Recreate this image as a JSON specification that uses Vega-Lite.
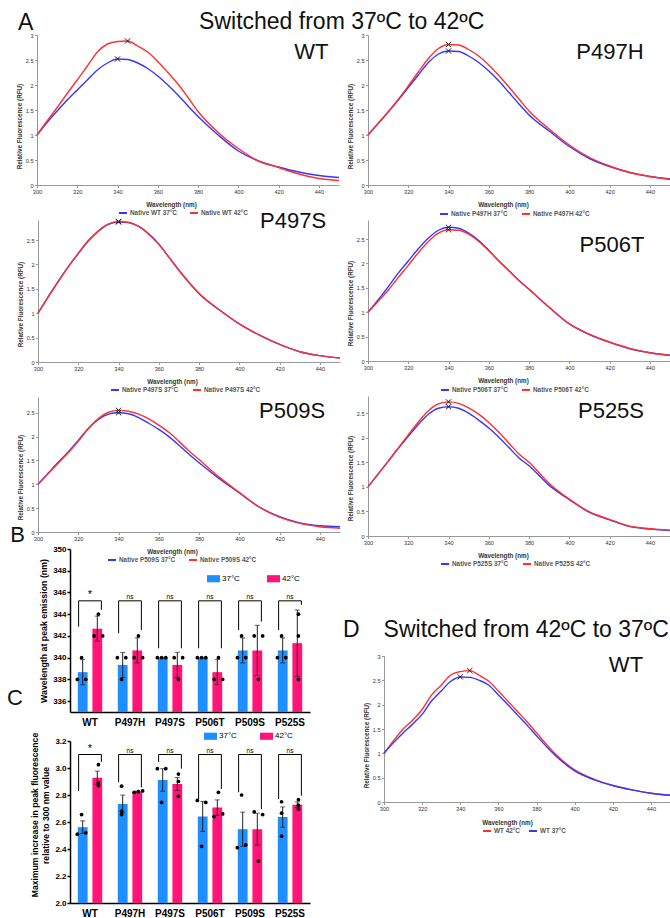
{
"$schema": "https://vega.github.io/schema/vega-lite/v6.json",
"width": 670, "height": 918,
"autosize": {"type": "none"},
"padding": 0,
"background": "white",
"config": {
 "view": {"stroke": null},
 "font": "Liberation Sans",
 "axis": {"grid": false, "labelFont": "Liberation Sans", "titleFont": "Liberation Sans", "labelFontSize": 5.6, "labelColor": "#333", "domainColor": "#999", "tickColor": "#999", "tickSize": 2.5, "labelPadding": 1.5, "titleFontSize": 6.3, "titleFontWeight": "bold", "titleColor": "#333", "labelFlush": false, "labelOverlap": false, "titlePadding": 3},
 "legend": {"labelFont": "Liberation Sans", "padding": 0}
},
"datasets": {
 "curves": [
{"p":"WT","s":"37","w":300,"v":1.0},{"p":"WT","s":"37","w":305,"v":1.25},{"p":"WT","s":"37","w":310,"v":1.48},{"p":"WT","s":"37","w":315,"v":1.70},{"p":"WT","s":"37","w":320,"v":1.90},{"p":"WT","s":"37","w":325,"v":2.10},{"p":"WT","s":"37","w":330,"v":2.30},{"p":"WT","s":"37","w":335,"v":2.44},{"p":"WT","s":"37","w":340,"v":2.52},{"p":"WT","s":"37","w":345,"v":2.51},{"p":"WT","s":"37","w":350,"v":2.44},{"p":"WT","s":"37","w":355,"v":2.33},{"p":"WT","s":"37","w":360,"v":2.18},{"p":"WT","s":"37","w":365,"v":2.00},{"p":"WT","s":"37","w":370,"v":1.80},{"p":"WT","s":"37","w":375,"v":1.58},{"p":"WT","s":"37","w":380,"v":1.37},{"p":"WT","s":"37","w":390,"v":1.00},{"p":"WT","s":"37","w":400,"v":0.68},{"p":"WT","s":"37","w":410,"v":0.48},{"p":"WT","s":"37","w":420,"v":0.36},{"p":"WT","s":"37","w":430,"v":0.26},{"p":"WT","s":"37","w":440,"v":0.19},{"p":"WT","s":"37","w":450,"v":0.15},
{"p":"WT","s":"42","w":300,"v":1.0},{"p":"WT","s":"42","w":305,"v":1.28},{"p":"WT","s":"42","w":310,"v":1.55},{"p":"WT","s":"42","w":315,"v":1.83},{"p":"WT","s":"42","w":320,"v":2.10},{"p":"WT","s":"42","w":325,"v":2.38},{"p":"WT","s":"42","w":330,"v":2.66},{"p":"WT","s":"42","w":335,"v":2.82},{"p":"WT","s":"42","w":340,"v":2.87},{"p":"WT","s":"42","w":345,"v":2.88},{"p":"WT","s":"42","w":350,"v":2.78},{"p":"WT","s":"42","w":355,"v":2.66},{"p":"WT","s":"42","w":360,"v":2.47},{"p":"WT","s":"42","w":365,"v":2.25},{"p":"WT","s":"42","w":370,"v":2.02},{"p":"WT","s":"42","w":375,"v":1.75},{"p":"WT","s":"42","w":380,"v":1.47},{"p":"WT","s":"42","w":390,"v":1.05},{"p":"WT","s":"42","w":400,"v":0.73},{"p":"WT","s":"42","w":410,"v":0.48},{"p":"WT","s":"42","w":420,"v":0.35},{"p":"WT","s":"42","w":430,"v":0.22},{"p":"WT","s":"42","w":440,"v":0.13},{"p":"WT","s":"42","w":450,"v":0.09},
{"p":"P497H","s":"37","w":300,"v":1.0},{"p":"P497H","s":"37","w":305,"v":1.23},{"p":"P497H","s":"37","w":310,"v":1.46},{"p":"P497H","s":"37","w":315,"v":1.70},{"p":"P497H","s":"37","w":320,"v":1.95},{"p":"P497H","s":"37","w":325,"v":2.20},{"p":"P497H","s":"37","w":330,"v":2.45},{"p":"P497H","s":"37","w":335,"v":2.62},{"p":"P497H","s":"37","w":340,"v":2.68},{"p":"P497H","s":"37","w":345,"v":2.67},{"p":"P497H","s":"37","w":350,"v":2.58},{"p":"P497H","s":"37","w":355,"v":2.45},{"p":"P497H","s":"37","w":360,"v":2.28},{"p":"P497H","s":"37","w":365,"v":2.08},{"p":"P497H","s":"37","w":370,"v":1.85},{"p":"P497H","s":"37","w":375,"v":1.62},{"p":"P497H","s":"37","w":380,"v":1.40},{"p":"P497H","s":"37","w":390,"v":1.08},{"p":"P497H","s":"37","w":400,"v":0.77},{"p":"P497H","s":"37","w":410,"v":0.53},{"p":"P497H","s":"37","w":420,"v":0.37},{"p":"P497H","s":"37","w":430,"v":0.25},{"p":"P497H","s":"37","w":440,"v":0.17},{"p":"P497H","s":"37","w":450,"v":0.12},
{"p":"P497H","s":"42","w":300,"v":1.0},{"p":"P497H","s":"42","w":305,"v":1.23},{"p":"P497H","s":"42","w":310,"v":1.46},{"p":"P497H","s":"42","w":315,"v":1.71},{"p":"P497H","s":"42","w":320,"v":1.98},{"p":"P497H","s":"42","w":325,"v":2.26},{"p":"P497H","s":"42","w":330,"v":2.53},{"p":"P497H","s":"42","w":335,"v":2.73},{"p":"P497H","s":"42","w":340,"v":2.81},{"p":"P497H","s":"42","w":345,"v":2.80},{"p":"P497H","s":"42","w":350,"v":2.71},{"p":"P497H","s":"42","w":355,"v":2.58},{"p":"P497H","s":"42","w":360,"v":2.40},{"p":"P497H","s":"42","w":365,"v":2.19},{"p":"P497H","s":"42","w":370,"v":1.96},{"p":"P497H","s":"42","w":375,"v":1.72},{"p":"P497H","s":"42","w":380,"v":1.48},{"p":"P497H","s":"42","w":390,"v":1.12},{"p":"P497H","s":"42","w":400,"v":0.80},{"p":"P497H","s":"42","w":410,"v":0.55},{"p":"P497H","s":"42","w":420,"v":0.38},{"p":"P497H","s":"42","w":430,"v":0.25},{"p":"P497H","s":"42","w":440,"v":0.17},{"p":"P497H","s":"42","w":450,"v":0.11},
{"p":"P497S","s":"37","w":300,"v":1.0},{"p":"P497S","s":"37","w":305,"v":1.33},{"p":"P497S","s":"37","w":310,"v":1.65},{"p":"P497S","s":"37","w":315,"v":1.95},{"p":"P497S","s":"37","w":320,"v":2.22},{"p":"P497S","s":"37","w":325,"v":2.48},{"p":"P497S","s":"37","w":330,"v":2.68},{"p":"P497S","s":"37","w":335,"v":2.82},{"p":"P497S","s":"37","w":340,"v":2.87},{"p":"P497S","s":"37","w":345,"v":2.86},{"p":"P497S","s":"37","w":350,"v":2.78},{"p":"P497S","s":"37","w":355,"v":2.63},{"p":"P497S","s":"37","w":360,"v":2.42},{"p":"P497S","s":"37","w":365,"v":2.15},{"p":"P497S","s":"37","w":370,"v":1.88},{"p":"P497S","s":"37","w":375,"v":1.63},{"p":"P497S","s":"37","w":380,"v":1.40},{"p":"P497S","s":"37","w":390,"v":1.07},{"p":"P497S","s":"37","w":400,"v":0.78},{"p":"P497S","s":"37","w":410,"v":0.55},{"p":"P497S","s":"37","w":420,"v":0.36},{"p":"P497S","s":"37","w":430,"v":0.21},{"p":"P497S","s":"37","w":440,"v":0.13},{"p":"P497S","s":"37","w":450,"v":0.08},
{"p":"P497S","s":"42","w":300,"v":1.0},{"p":"P497S","s":"42","w":305,"v":1.33},{"p":"P497S","s":"42","w":310,"v":1.64},{"p":"P497S","s":"42","w":315,"v":1.95},{"p":"P497S","s":"42","w":320,"v":2.23},{"p":"P497S","s":"42","w":325,"v":2.49},{"p":"P497S","s":"42","w":330,"v":2.69},{"p":"P497S","s":"42","w":335,"v":2.83},{"p":"P497S","s":"42","w":340,"v":2.88},{"p":"P497S","s":"42","w":345,"v":2.86},{"p":"P497S","s":"42","w":350,"v":2.78},{"p":"P497S","s":"42","w":355,"v":2.62},{"p":"P497S","s":"42","w":360,"v":2.41},{"p":"P497S","s":"42","w":365,"v":2.15},{"p":"P497S","s":"42","w":370,"v":1.88},{"p":"P497S","s":"42","w":375,"v":1.63},{"p":"P497S","s":"42","w":380,"v":1.41},{"p":"P497S","s":"42","w":390,"v":1.07},{"p":"P497S","s":"42","w":400,"v":0.78},{"p":"P497S","s":"42","w":410,"v":0.55},{"p":"P497S","s":"42","w":420,"v":0.36},{"p":"P497S","s":"42","w":430,"v":0.21},{"p":"P497S","s":"42","w":440,"v":0.13},{"p":"P497S","s":"42","w":450,"v":0.08},
{"p":"P506T","s":"37","w":300,"v":1.0},{"p":"P506T","s":"37","w":305,"v":1.25},{"p":"P506T","s":"37","w":310,"v":1.52},{"p":"P506T","s":"37","w":315,"v":1.80},{"p":"P506T","s":"37","w":320,"v":2.05},{"p":"P506T","s":"37","w":325,"v":2.30},{"p":"P506T","s":"37","w":330,"v":2.52},{"p":"P506T","s":"37","w":335,"v":2.68},{"p":"P506T","s":"37","w":340,"v":2.74},{"p":"P506T","s":"37","w":345,"v":2.72},{"p":"P506T","s":"37","w":350,"v":2.62},{"p":"P506T","s":"37","w":355,"v":2.47},{"p":"P506T","s":"37","w":360,"v":2.27},{"p":"P506T","s":"37","w":365,"v":2.05},{"p":"P506T","s":"37","w":370,"v":1.85},{"p":"P506T","s":"37","w":375,"v":1.65},{"p":"P506T","s":"37","w":380,"v":1.47},{"p":"P506T","s":"37","w":390,"v":1.10},{"p":"P506T","s":"37","w":400,"v":0.76},{"p":"P506T","s":"37","w":410,"v":0.54},{"p":"P506T","s":"37","w":420,"v":0.38},{"p":"P506T","s":"37","w":430,"v":0.25},{"p":"P506T","s":"37","w":440,"v":0.17},{"p":"P506T","s":"37","w":450,"v":0.12},
{"p":"P506T","s":"42","w":300,"v":1.0},{"p":"P506T","s":"42","w":305,"v":1.22},{"p":"P506T","s":"42","w":310,"v":1.45},{"p":"P506T","s":"42","w":315,"v":1.71},{"p":"P506T","s":"42","w":320,"v":1.96},{"p":"P506T","s":"42","w":325,"v":2.22},{"p":"P506T","s":"42","w":330,"v":2.45},{"p":"P506T","s":"42","w":335,"v":2.62},{"p":"P506T","s":"42","w":340,"v":2.69},{"p":"P506T","s":"42","w":345,"v":2.68},{"p":"P506T","s":"42","w":350,"v":2.60},{"p":"P506T","s":"42","w":355,"v":2.45},{"p":"P506T","s":"42","w":360,"v":2.26},{"p":"P506T","s":"42","w":365,"v":2.05},{"p":"P506T","s":"42","w":370,"v":1.85},{"p":"P506T","s":"42","w":375,"v":1.65},{"p":"P506T","s":"42","w":380,"v":1.47},{"p":"P506T","s":"42","w":390,"v":1.10},{"p":"P506T","s":"42","w":400,"v":0.76},{"p":"P506T","s":"42","w":410,"v":0.55},{"p":"P506T","s":"42","w":420,"v":0.39},{"p":"P506T","s":"42","w":430,"v":0.26},{"p":"P506T","s":"42","w":440,"v":0.17},{"p":"P506T","s":"42","w":450,"v":0.11},
{"p":"P509S","s":"37","w":300,"v":1.0},{"p":"P509S","s":"37","w":305,"v":1.23},{"p":"P509S","s":"37","w":310,"v":1.46},{"p":"P509S","s":"37","w":315,"v":1.68},{"p":"P509S","s":"37","w":320,"v":1.92},{"p":"P509S","s":"37","w":325,"v":2.17},{"p":"P509S","s":"37","w":330,"v":2.36},{"p":"P509S","s":"37","w":335,"v":2.47},{"p":"P509S","s":"37","w":340,"v":2.50},{"p":"P509S","s":"37","w":345,"v":2.48},{"p":"P509S","s":"37","w":350,"v":2.40},{"p":"P509S","s":"37","w":355,"v":2.28},{"p":"P509S","s":"37","w":360,"v":2.15},{"p":"P509S","s":"37","w":365,"v":2.00},{"p":"P509S","s":"37","w":370,"v":1.82},{"p":"P509S","s":"37","w":375,"v":1.63},{"p":"P509S","s":"37","w":380,"v":1.45},{"p":"P509S","s":"37","w":390,"v":1.12},{"p":"P509S","s":"37","w":400,"v":0.82},{"p":"P509S","s":"37","w":410,"v":0.52},{"p":"P509S","s":"37","w":420,"v":0.32},{"p":"P509S","s":"37","w":430,"v":0.19},{"p":"P509S","s":"37","w":440,"v":0.13},{"p":"P509S","s":"37","w":450,"v":0.11},
{"p":"P509S","s":"42","w":300,"v":1.0},{"p":"P509S","s":"42","w":305,"v":1.22},{"p":"P509S","s":"42","w":310,"v":1.44},{"p":"P509S","s":"42","w":315,"v":1.66},{"p":"P509S","s":"42","w":320,"v":1.90},{"p":"P509S","s":"42","w":325,"v":2.17},{"p":"P509S","s":"42","w":330,"v":2.38},{"p":"P509S","s":"42","w":335,"v":2.51},{"p":"P509S","s":"42","w":340,"v":2.55},{"p":"P509S","s":"42","w":345,"v":2.53},{"p":"P509S","s":"42","w":350,"v":2.47},{"p":"P509S","s":"42","w":355,"v":2.37},{"p":"P509S","s":"42","w":360,"v":2.24},{"p":"P509S","s":"42","w":365,"v":2.09},{"p":"P509S","s":"42","w":370,"v":1.90},{"p":"P509S","s":"42","w":375,"v":1.70},{"p":"P509S","s":"42","w":380,"v":1.52},{"p":"P509S","s":"42","w":390,"v":1.15},{"p":"P509S","s":"42","w":400,"v":0.83},{"p":"P509S","s":"42","w":410,"v":0.52},{"p":"P509S","s":"42","w":420,"v":0.31},{"p":"P509S","s":"42","w":430,"v":0.18},{"p":"P509S","s":"42","w":440,"v":0.11},{"p":"P509S","s":"42","w":450,"v":0.08},
{"p":"P525S","s":"37","w":300,"v":1.0},{"p":"P525S","s":"37","w":305,"v":1.26},{"p":"P525S","s":"37","w":310,"v":1.52},{"p":"P525S","s":"37","w":315,"v":1.78},{"p":"P525S","s":"37","w":320,"v":2.03},{"p":"P525S","s":"37","w":325,"v":2.27},{"p":"P525S","s":"37","w":330,"v":2.48},{"p":"P525S","s":"37","w":335,"v":2.60},{"p":"P525S","s":"37","w":340,"v":2.63},{"p":"P525S","s":"37","w":345,"v":2.60},{"p":"P525S","s":"37","w":350,"v":2.50},{"p":"P525S","s":"37","w":355,"v":2.36},{"p":"P525S","s":"37","w":360,"v":2.20},{"p":"P525S","s":"37","w":365,"v":2.01},{"p":"P525S","s":"37","w":370,"v":1.80},{"p":"P525S","s":"37","w":375,"v":1.59},{"p":"P525S","s":"37","w":380,"v":1.43},{"p":"P525S","s":"37","w":390,"v":1.03},{"p":"P525S","s":"37","w":400,"v":0.74},{"p":"P525S","s":"37","w":410,"v":0.48},{"p":"P525S","s":"37","w":420,"v":0.33},{"p":"P525S","s":"37","w":430,"v":0.19},{"p":"P525S","s":"37","w":440,"v":0.14},{"p":"P525S","s":"37","w":450,"v":0.11},
{"p":"P525S","s":"42","w":300,"v":1.0},{"p":"P525S","s":"42","w":305,"v":1.26},{"p":"P525S","s":"42","w":310,"v":1.52},{"p":"P525S","s":"42","w":315,"v":1.79},{"p":"P525S","s":"42","w":320,"v":2.06},{"p":"P525S","s":"42","w":325,"v":2.32},{"p":"P525S","s":"42","w":330,"v":2.55},{"p":"P525S","s":"42","w":335,"v":2.69},{"p":"P525S","s":"42","w":340,"v":2.73},{"p":"P525S","s":"42","w":345,"v":2.70},{"p":"P525S","s":"42","w":350,"v":2.61},{"p":"P525S","s":"42","w":355,"v":2.48},{"p":"P525S","s":"42","w":360,"v":2.31},{"p":"P525S","s":"42","w":365,"v":2.11},{"p":"P525S","s":"42","w":370,"v":1.89},{"p":"P525S","s":"42","w":375,"v":1.67},{"p":"P525S","s":"42","w":380,"v":1.50},{"p":"P525S","s":"42","w":390,"v":1.07},{"p":"P525S","s":"42","w":400,"v":0.75},{"p":"P525S","s":"42","w":410,"v":0.49},{"p":"P525S","s":"42","w":420,"v":0.34},{"p":"P525S","s":"42","w":430,"v":0.20},{"p":"P525S","s":"42","w":440,"v":0.15},{"p":"P525S","s":"42","w":450,"v":0.12},
{"p":"D","s":"42","w":300,"v":1.0},{"p":"D","s":"42","w":305,"v":1.26},{"p":"D","s":"42","w":310,"v":1.50},{"p":"D","s":"42","w":315,"v":1.68},{"p":"D","s":"42","w":320,"v":1.90},{"p":"D","s":"42","w":325,"v":2.20},{"p":"D","s":"42","w":330,"v":2.40},{"p":"D","s":"42","w":335,"v":2.61},{"p":"D","s":"42","w":340,"v":2.68},{"p":"D","s":"42","w":345,"v":2.70},{"p":"D","s":"42","w":350,"v":2.60},{"p":"D","s":"42","w":355,"v":2.48},{"p":"D","s":"42","w":360,"v":2.28},{"p":"D","s":"42","w":365,"v":2.07},{"p":"D","s":"42","w":370,"v":1.86},{"p":"D","s":"42","w":375,"v":1.65},{"p":"D","s":"42","w":380,"v":1.42},{"p":"D","s":"42","w":390,"v":0.98},{"p":"D","s":"42","w":400,"v":0.66},{"p":"D","s":"42","w":410,"v":0.47},{"p":"D","s":"42","w":420,"v":0.34},{"p":"D","s":"42","w":430,"v":0.25},{"p":"D","s":"42","w":440,"v":0.18},{"p":"D","s":"42","w":450,"v":0.14},
{"p":"D","s":"37","w":300,"v":1.0},{"p":"D","s":"37","w":305,"v":1.22},{"p":"D","s":"37","w":310,"v":1.42},{"p":"D","s":"37","w":315,"v":1.60},{"p":"D","s":"37","w":320,"v":1.80},{"p":"D","s":"37","w":325,"v":2.08},{"p":"D","s":"37","w":330,"v":2.28},{"p":"D","s":"37","w":335,"v":2.48},{"p":"D","s":"37","w":340,"v":2.57},{"p":"D","s":"37","w":345,"v":2.56},{"p":"D","s":"37","w":350,"v":2.50},{"p":"D","s":"37","w":355,"v":2.40},{"p":"D","s":"37","w":360,"v":2.20},{"p":"D","s":"37","w":365,"v":2.00},{"p":"D","s":"37","w":370,"v":1.79},{"p":"D","s":"37","w":375,"v":1.58},{"p":"D","s":"37","w":380,"v":1.36},{"p":"D","s":"37","w":390,"v":0.95},{"p":"D","s":"37","w":400,"v":0.64},{"p":"D","s":"37","w":410,"v":0.46},{"p":"D","s":"37","w":420,"v":0.34},{"p":"D","s":"37","w":430,"v":0.25},{"p":"D","s":"37","w":440,"v":0.18},{"p":"D","s":"37","w":450,"v":0.14}
 ],
 "pkB": [
{"g":"WT","t":"37°C","k":"37-1","v":338},{"g":"WT","t":"37°C","k":"37-2","v":340},{"g":"WT","t":"37°C","k":"37-3","v":338},
{"g":"WT","t":"42°C","k":"42-1","v":342},{"g":"WT","t":"42°C","k":"42-2","v":344},{"g":"WT","t":"42°C","k":"42-3","v":342},
{"g":"P497H","t":"37°C","k":"37-1","v":340},{"g":"P497H","t":"37°C","k":"37-2","v":338},{"g":"P497H","t":"37°C","k":"37-3","v":340},
{"g":"P497H","t":"42°C","k":"42-1","v":340},{"g":"P497H","t":"42°C","k":"42-2","v":342},{"g":"P497H","t":"42°C","k":"42-3","v":340},
{"g":"P497S","t":"37°C","k":"37-1","v":340},{"g":"P497S","t":"37°C","k":"37-2","v":340},{"g":"P497S","t":"37°C","k":"37-3","v":340},
{"g":"P497S","t":"42°C","k":"42-1","v":340},{"g":"P497S","t":"42°C","k":"42-2","v":338},{"g":"P497S","t":"42°C","k":"42-3","v":340},
{"g":"P506T","t":"37°C","k":"37-1","v":340},{"g":"P506T","t":"37°C","k":"37-2","v":340},{"g":"P506T","t":"37°C","k":"37-3","v":340},
{"g":"P506T","t":"42°C","k":"42-1","v":338},{"g":"P506T","t":"42°C","k":"42-2","v":340},{"g":"P506T","t":"42°C","k":"42-3","v":338},
{"g":"P509S","t":"37°C","k":"37-1","v":340},{"g":"P509S","t":"37°C","k":"37-2","v":342},{"g":"P509S","t":"37°C","k":"37-3","v":340},
{"g":"P509S","t":"42°C","k":"42-1","v":342},{"g":"P509S","t":"42°C","k":"42-2","v":338},{"g":"P509S","t":"42°C","k":"42-3","v":342},
{"g":"P525S","t":"37°C","k":"37-1","v":340},{"g":"P525S","t":"37°C","k":"37-2","v":342},{"g":"P525S","t":"37°C","k":"37-3","v":340},
{"g":"P525S","t":"42°C","k":"42-2","v":344},{"g":"P525S","t":"42°C","k":"42-2","v":342},{"g":"P525S","t":"42°C","k":"42-2","v":338}
 ],
 "pkC": [
{"g":"WT","t":"37°C","k":"37-1","v":2.51},{"g":"WT","t":"37°C","k":"37-2","v":2.655},{"g":"WT","t":"37°C","k":"37-3","v":2.52},
{"g":"WT","t":"42°C","k":"42-2","v":3.025},{"g":"WT","t":"42°C","k":"42-2","v":2.89},{"g":"WT","t":"42°C","k":"42-2","v":2.87},
{"g":"P497H","t":"37°C","k":"37-2","v":2.865},{"g":"P497H","t":"37°C","k":"37-2","v":2.68},{"g":"P497H","t":"37°C","k":"37-2","v":2.655},
{"g":"P497H","t":"42°C","k":"42-1","v":2.82},{"g":"P497H","t":"42°C","k":"42-2","v":2.825},{"g":"P497H","t":"42°C","k":"42-3","v":2.83},
{"g":"P497S","t":"37°C","k":"37-1","v":2.995},{"g":"P497S","t":"37°C","k":"37-2","v":2.745},{"g":"P497S","t":"37°C","k":"37-3","v":2.995},
{"g":"P497S","t":"42°C","k":"42-2","v":2.955},{"g":"P497S","t":"42°C","k":"42-2","v":2.90},{"g":"P497S","t":"42°C","k":"42-2","v":2.79},
{"g":"P506T","t":"37°C","k":"37-1","v":2.76},{"g":"P506T","t":"37°C","k":"37-2","v":2.42},{"g":"P506T","t":"37°C","k":"37-3","v":2.745},
{"g":"P506T","t":"42°C","k":"42-1","v":2.64},{"g":"P506T","t":"42°C","k":"42-2","v":2.82},{"g":"P506T","t":"42°C","k":"42-3","v":2.66},
{"g":"P509S","t":"37°C","k":"37-1","v":2.41},{"g":"P509S","t":"37°C","k":"37-2","v":2.80},{"g":"P509S","t":"37°C","k":"37-3","v":2.43},
{"g":"P509S","t":"42°C","k":"42-1","v":2.675},{"g":"P509S","t":"42°C","k":"42-2","v":2.31},{"g":"P509S","t":"42°C","k":"42-3","v":2.655},
{"g":"P525S","t":"37°C","k":"37-2","v":2.75},{"g":"P525S","t":"37°C","k":"37-2","v":2.665},{"g":"P525S","t":"37°C","k":"37-2","v":2.495},
{"g":"P525S","t":"42°C","k":"42-2","v":2.765},{"g":"P525S","t":"42°C","k":"42-2","v":2.725},{"g":"P525S","t":"42°C","k":"42-2","v":2.695}
 ],
 "brB": [
{"g":"WT","t":"37°C","o":1,"y":342.86},{"g":"WT","t":"37°C","o":2,"y":345.23},{"g":"WT","t":"42°C","o":3,"y":345.23},{"g":"WT","t":"42°C","o":4,"y":344.4},
{"g":"P497H","t":"37°C","o":1,"y":342.25},{"g":"P497H","t":"37°C","o":2,"y":345.23},{"g":"P497H","t":"42°C","o":3,"y":345.23},{"g":"P497H","t":"42°C","o":4,"y":342.55},
{"g":"P497S","t":"37°C","o":1,"y":340.86},{"g":"P497S","t":"37°C","o":2,"y":345.23},{"g":"P497S","t":"42°C","o":3,"y":345.23},{"g":"P497S","t":"42°C","o":4,"y":340.86},
{"g":"P506T","t":"37°C","o":1,"y":340.86},{"g":"P506T","t":"37°C","o":2,"y":345.23},{"g":"P506T","t":"42°C","o":3,"y":345.23},{"g":"P506T","t":"42°C","o":4,"y":340.86},
{"g":"P509S","t":"37°C","o":1,"y":342.55},{"g":"P509S","t":"37°C","o":2,"y":345.23},{"g":"P509S","t":"42°C","o":3,"y":345.23},{"g":"P509S","t":"42°C","o":4,"y":343.32},
{"g":"P525S","t":"37°C","o":1,"y":342.55},{"g":"P525S","t":"37°C","o":2,"y":345.23},{"g":"P525S","t":"42°C","o":3,"y":345.23},{"g":"P525S","t":"42°C","o":4,"y":344.86}
 ],
 "sigB": [
{"g":"WT","lab":"*","y":345.23},{"g":"P497H","lab":"ns","y":345.23},{"g":"P497S","lab":"ns","y":345.23},{"g":"P506T","lab":"ns","y":345.23},{"g":"P509S","lab":"ns","y":345.23},{"g":"P525S","lab":"ns","y":345.23}
 ],
 "brC": [
{"g":"WT","t":"37°C","o":1,"y":2.83},{"g":"WT","t":"37°C","o":2,"y":3.10},{"g":"WT","t":"42°C","o":3,"y":3.10},{"g":"WT","t":"42°C","o":4,"y":3.045},
{"g":"P497H","t":"37°C","o":1,"y":2.895},{"g":"P497H","t":"37°C","o":2,"y":3.10},{"g":"P497H","t":"42°C","o":3,"y":3.10},{"g":"P497H","t":"42°C","o":4,"y":2.857},
{"g":"P497S","t":"37°C","o":1,"y":3.045},{"g":"P497S","t":"37°C","o":2,"y":3.10},{"g":"P497S","t":"42°C","o":3,"y":3.10},{"g":"P497S","t":"42°C","o":4,"y":2.995},
{"g":"P506T","t":"37°C","o":1,"y":2.77},{"g":"P506T","t":"37°C","o":2,"y":3.10},{"g":"P506T","t":"42°C","o":3,"y":3.10},{"g":"P506T","t":"42°C","o":4,"y":2.845},
{"g":"P509S","t":"37°C","o":1,"y":2.82},{"g":"P509S","t":"37°C","o":2,"y":3.10},{"g":"P509S","t":"42°C","o":3,"y":3.10},{"g":"P509S","t":"42°C","o":4,"y":2.695},
{"g":"P525S","t":"37°C","o":1,"y":2.77},{"g":"P525S","t":"37°C","o":2,"y":3.10},{"g":"P525S","t":"42°C","o":3,"y":3.10},{"g":"P525S","t":"42°C","o":4,"y":2.795}
 ],
 "sigC": [
{"g":"WT","lab":"*","y":3.10},{"g":"P497H","lab":"ns","y":3.10},{"g":"P497S","lab":"ns","y":3.10},{"g":"P506T","lab":"ns","y":3.10},{"g":"P509S","lab":"ns","y":3.10},{"g":"P525S","lab":"ns","y":3.10}
 ]
},
"layer": [
 {"layer": [
  {"data": {"name": "curves"}, "transform": [{"filter": "datum.p === 'WT'"}],
   "mark": {"type": "line", "interpolate": "monotone", "strokeWidth": 1.4},
   "encoding": {
    "x": {"field": "w", "type": "quantitative", "scale": {"domain": [300, 450], "range": [37, 339], "nice": false, "zero": false}, "axis": {"orient": "bottom", "offset": -733, "values": [300,320,340,360,380,400,420,440], "title": "Wavelength (nm)", "titleX": 171, "titleY": 19, "titleBaseline": "middle", "titleAlign": "center"}},
    "y": {"field": "v", "type": "quantitative", "scale": {"domain": [0, 3], "range": [185, 35], "nice": false}, "axis": {"orient": "left", "offset": -37, "values": [0,0.5,1,1.5,2,2.5,3], "format": "~g", "title": "Relative Fluorescence (RFU)", "titleY": 126, "titleAlign": "center"}},
    "color": {"field": "s", "type": "nominal", "scale": {"domain": ["37","42"], "range": ["#3636ff","#ff3030"]}, "legend": {"orient": "none", "legendX": 118, "legendY": 208, "direction": "horizontal", "title": null, "symbolType": "stroke", "symbolStrokeWidth": 2, "symbolSize": 64, "labelFontSize": 6.4, "labelFontWeight": "bold", "labelColor": "#555", "labelOffset": 2, "columnPadding": 9, "labelExpr": "'Native WT ' + datum.label + '°C'"}}
   }},
  {"data": {"name": "curves"}, "transform": [{"filter": "datum.p === 'WT'"}, {"joinaggregate": [{"op": "max", "field": "v", "as": "mx"}], "groupby": ["s"]}, {"filter": "datum.v === datum.mx"}],
   "mark": {"type": "point", "shape": "M-1,-1L1,1M1,-1L-1,1", "filled": false, "color": "#222", "strokeWidth": 1, "size": 28, "opacity": 1},
   "encoding": {"x": {"field": "w", "type": "quantitative"}, "y": {"field": "v", "type": "quantitative"}}},
  {"data": {"values": [{"lab": "WT"}]}, "mark": {"type": "text", "fontSize": 22, "align": "center", "baseline": "middle", "color": "#111"},
   "encoding": {"x": {"datum": 436.3}, "y": {"datum": 2.66}, "text": {"field": "lab"}}},
  {"data": {"values": [{"lab": "A"}]}, "mark": {"type": "text", "fontSize": 23, "align": "left", "baseline": "alphabetic", "color": "#111"},
   "encoding": {"x": {"datum": 290.6}, "y": {"datum": 3.10}, "text": {"field": "lab"}}},
  {"data": {"values": [{"lab": "Switched from 37ºC to 42ºC"}]}, "mark": {"type": "text", "fontSize": 23, "align": "left", "baseline": "alphabetic", "color": "#111"},
   "encoding": {"x": {"datum": 380.5}, "y": {"datum": 3.13}, "text": {"field": "lab"}}}
 ]},
 {"layer": [
  {"data": {"name": "curves"}, "transform": [{"filter": "datum.p === 'P497H'"}],
   "mark": {"type": "line", "interpolate": "monotone", "strokeWidth": 1.4},
   "encoding": {
    "x": {"field": "w", "type": "quantitative", "scale": {"domain": [300, 450], "range": [368, 670], "nice": false, "zero": false}, "axis": {"orient": "bottom", "offset": -733, "values": [300,320,340,360,380,400,420,440], "title": "Wavelength (nm)", "titleX": 503, "titleY": 19, "titleBaseline": "middle", "titleAlign": "center"}},
    "y": {"field": "v", "type": "quantitative", "scale": {"domain": [0, 3], "range": [185, 35], "nice": false}, "axis": {"orient": "left", "offset": -368, "values": [0,0.5,1,1.5,2,2.5,3], "format": "~g", "title": "Relative Fluorescence (RFU)", "titleY": 126, "titleAlign": "center"}},
    "color": {"field": "s", "type": "nominal", "scale": {"domain": ["37","42"], "range": ["#3636ff","#ff3030"]}, "legend": {"orient": "none", "legendX": 439, "legendY": 209, "direction": "horizontal", "title": null, "symbolType": "stroke", "symbolStrokeWidth": 2, "symbolSize": 64, "labelFontSize": 6.4, "labelFontWeight": "bold", "labelColor": "#555", "labelOffset": 2, "columnPadding": 10, "labelExpr": "'Native P497H ' + datum.label + '°C'"}}
   }},
  {"data": {"name": "curves"}, "transform": [{"filter": "datum.p === 'P497H'"}, {"joinaggregate": [{"op": "max", "field": "v", "as": "mx"}], "groupby": ["s"]}, {"filter": "datum.v === datum.mx"}],
   "mark": {"type": "point", "shape": "M-1,-1L1,1M1,-1L-1,1", "filled": false, "color": "#222", "strokeWidth": 1, "size": 28, "opacity": 1},
   "encoding": {"x": {"field": "w", "type": "quantitative"}, "y": {"field": "v", "type": "quantitative"}}},
  {"data": {"values": [{"lab": "P497H"}]}, "mark": {"type": "text", "fontSize": 22, "align": "center", "baseline": "middle", "color": "#111"},
   "encoding": {"x": {"datum": 420.2}, "y": {"datum": 2.66}, "text": {"field": "lab"}}}
 ]},
 {"layer": [
  {"data": {"name": "curves"}, "transform": [{"filter": "datum.p === 'P497S'"}],
   "mark": {"type": "line", "interpolate": "monotone", "strokeWidth": 1.4},
   "encoding": {
    "x": {"field": "w", "type": "quantitative", "scale": {"domain": [300, 450], "range": [38, 340], "nice": false, "zero": false}, "axis": {"orient": "bottom", "offset": -556, "values": [300,320,340,360,380,400,420,440], "title": "Wavelength (nm)", "titleX": 172, "titleY": 19, "titleBaseline": "middle", "titleAlign": "center"}},
    "y": {"field": "v", "type": "quantitative", "scale": {"domain": [0, 2.91], "range": [362, 220], "nice": false}, "axis": {"orient": "left", "offset": -38, "values": [0,0.5,1,1.5,2,2.5], "format": "~g", "title": "Relative Fluorescence (RFU)", "titleY": 304, "titleAlign": "center"}},
    "color": {"field": "s", "type": "nominal", "scale": {"domain": ["37","42"], "range": ["#3636ff","#ff3030"]}, "legend": {"orient": "none", "legendX": 110, "legendY": 385, "direction": "horizontal", "title": null, "symbolType": "stroke", "symbolStrokeWidth": 2, "symbolSize": 64, "labelFontSize": 6.4, "labelFontWeight": "bold", "labelColor": "#555", "labelOffset": 2, "columnPadding": 10, "labelExpr": "'Native P497S ' + datum.label + '°C'"}}
   }},
  {"data": {"name": "curves"}, "transform": [{"filter": "datum.p === 'P497S'"}, {"joinaggregate": [{"op": "max", "field": "v", "as": "mx"}], "groupby": ["s"]}, {"filter": "datum.v === datum.mx"}],
   "mark": {"type": "point", "shape": "M-1,-1L1,1M1,-1L-1,1", "filled": false, "color": "#222", "strokeWidth": 1, "size": 28, "opacity": 1},
   "encoding": {"x": {"field": "w", "type": "quantitative"}, "y": {"field": "v", "type": "quantitative"}}},
  {"data": {"values": [{"lab": "P497S"}]}, "mark": {"type": "text", "fontSize": 22, "align": "center", "baseline": "middle", "color": "#111"},
   "encoding": {"x": {"datum": 426.7}, "y": {"datum": 2.89}, "text": {"field": "lab"}}}
 ]},
 {"layer": [
  {"data": {"name": "curves"}, "transform": [{"filter": "datum.p === 'P506T'"}],
   "mark": {"type": "line", "interpolate": "monotone", "strokeWidth": 1.4},
   "encoding": {
    "x": {"field": "w", "type": "quantitative", "scale": {"domain": [300, 450], "range": [368, 670], "nice": false, "zero": false}, "axis": {"orient": "bottom", "offset": -557, "values": [300,320,340,360,380,400,420,440], "title": "Wavelength (nm)", "titleX": 503, "titleY": 19, "titleBaseline": "middle", "titleAlign": "center"}},
    "y": {"field": "v", "type": "quantitative", "scale": {"domain": [0, 2.89], "range": [361, 220], "nice": false}, "axis": {"orient": "left", "offset": -368, "values": [0,0.5,1,1.5,2,2.5], "format": "~g", "title": "Relative Fluorescence (RFU)", "titleY": 303, "titleAlign": "center"}},
    "color": {"field": "s", "type": "nominal", "scale": {"domain": ["37","42"], "range": ["#3636ff","#ff3030"]}, "legend": {"orient": "none", "legendX": 440, "legendY": 385, "direction": "horizontal", "title": null, "symbolType": "stroke", "symbolStrokeWidth": 2, "symbolSize": 64, "labelFontSize": 6.4, "labelFontWeight": "bold", "labelColor": "#555", "labelOffset": 2, "columnPadding": 10, "labelExpr": "'Native P506T ' + datum.label + '°C'"}}
   }},
  {"data": {"name": "curves"}, "transform": [{"filter": "datum.p === 'P506T'"}, {"joinaggregate": [{"op": "max", "field": "v", "as": "mx"}], "groupby": ["s"]}, {"filter": "datum.v === datum.mx"}],
   "mark": {"type": "point", "shape": "M-1,-1L1,1M1,-1L-1,1", "filled": false, "color": "#222", "strokeWidth": 1, "size": 28, "opacity": 1},
   "encoding": {"x": {"field": "w", "type": "quantitative"}, "y": {"field": "v", "type": "quantitative"}}},
  {"data": {"values": [{"lab": "P506T"}]}, "mark": {"type": "text", "fontSize": 22, "align": "center", "baseline": "middle", "color": "#111"},
   "encoding": {"x": {"datum": 421.2}, "y": {"datum": 2.38}, "text": {"field": "lab"}}}
 ]},
 {"layer": [
  {"data": {"name": "curves"}, "transform": [{"filter": "datum.p === 'P509S'"}],
   "mark": {"type": "line", "interpolate": "monotone", "strokeWidth": 1.4},
   "encoding": {
    "x": {"field": "w", "type": "quantitative", "scale": {"domain": [300, 450], "range": [38, 340], "nice": false, "zero": false}, "axis": {"orient": "bottom", "offset": -386, "values": [300,320,340,360,380,400,420,440], "title": "Wavelength (nm)", "titleX": 172, "titleY": 19, "titleBaseline": "middle", "titleAlign": "center"}},
    "y": {"field": "v", "type": "quantitative", "scale": {"domain": [0, 2.83], "range": [532, 397], "nice": false}, "axis": {"orient": "left", "offset": -38, "values": [0,0.5,1,1.5,2,2.5], "format": "~g", "title": "Relative Fluorescence (RFU)", "titleY": 477, "titleAlign": "center"}},
    "color": {"field": "s", "type": "nominal", "scale": {"domain": ["37","42"], "range": ["#3636ff","#ff3030"]}, "legend": {"orient": "none", "legendX": 107, "legendY": 555, "direction": "horizontal", "title": null, "symbolType": "stroke", "symbolStrokeWidth": 2, "symbolSize": 64, "labelFontSize": 6.4, "labelFontWeight": "bold", "labelColor": "#555", "labelOffset": 2, "columnPadding": 9, "labelExpr": "'Native P509S ' + datum.label + '°C'"}}
   }},
  {"data": {"name": "curves"}, "transform": [{"filter": "datum.p === 'P509S'"}, {"joinaggregate": [{"op": "max", "field": "v", "as": "mx"}], "groupby": ["s"]}, {"filter": "datum.v === datum.mx"}],
   "mark": {"type": "point", "shape": "M-1,-1L1,1M1,-1L-1,1", "filled": false, "color": "#222", "strokeWidth": 1, "size": 28, "opacity": 1},
   "encoding": {"x": {"field": "w", "type": "quantitative"}, "y": {"field": "v", "type": "quantitative"}}},
  {"data": {"values": [{"lab": "P509S"}]}, "mark": {"type": "text", "fontSize": 22, "align": "center", "baseline": "middle", "color": "#111"},
   "encoding": {"x": {"datum": 426.2}, "y": {"datum": 2.54}, "text": {"field": "lab"}}}
 ]},
 {"layer": [
  {"data": {"name": "curves"}, "transform": [{"filter": "datum.p === 'P525S'"}],
   "mark": {"type": "line", "interpolate": "monotone", "strokeWidth": 1.4},
   "encoding": {
    "x": {"field": "w", "type": "quantitative", "scale": {"domain": [300, 450], "range": [368, 670], "nice": false, "zero": false}, "axis": {"orient": "bottom", "offset": -382, "values": [300,320,340,360,380,400,420,440], "title": "Wavelength (nm)", "titleX": 503, "titleY": 19, "titleBaseline": "middle", "titleAlign": "center"}},
    "y": {"field": "v", "type": "quantitative", "scale": {"domain": [0, 2.85], "range": [536, 396], "nice": false}, "axis": {"orient": "left", "offset": -368, "values": [0,0.5,1,1.5,2,2.5], "format": "~g", "title": "Relative Fluorescence (RFU)", "titleY": 478, "titleAlign": "center"}},
    "color": {"field": "s", "type": "nominal", "scale": {"domain": ["37","42"], "range": ["#3636ff","#ff3030"]}, "legend": {"orient": "none", "legendX": 440, "legendY": 559, "direction": "horizontal", "title": null, "symbolType": "stroke", "symbolStrokeWidth": 2, "symbolSize": 64, "labelFontSize": 6.4, "labelFontWeight": "bold", "labelColor": "#555", "labelOffset": 2, "columnPadding": 10, "labelExpr": "'Native P525S ' + datum.label + '°C'"}}
   }},
  {"data": {"name": "curves"}, "transform": [{"filter": "datum.p === 'P525S'"}, {"joinaggregate": [{"op": "max", "field": "v", "as": "mx"}], "groupby": ["s"]}, {"filter": "datum.v === datum.mx"}],
   "mark": {"type": "point", "shape": "M-1,-1L1,1M1,-1L-1,1", "filled": false, "color": "#222", "strokeWidth": 1, "size": 28, "opacity": 1},
   "encoding": {"x": {"field": "w", "type": "quantitative"}, "y": {"field": "v", "type": "quantitative"}}},
  {"data": {"values": [{"lab": "P525S"}]}, "mark": {"type": "text", "fontSize": 22, "align": "center", "baseline": "middle", "color": "#111"},
   "encoding": {"x": {"datum": 420.7}, "y": {"datum": 2.55}, "text": {"field": "lab"}}}
 ]},
 {"layer": [
  {"data": {"name": "curves"}, "transform": [{"filter": "datum.p === 'D'"}],
   "mark": {"type": "line", "interpolate": "monotone", "strokeWidth": 1.4},
   "encoding": {
    "x": {"field": "w", "type": "quantitative", "scale": {"domain": [300, 450], "range": [384, 670], "nice": false, "zero": false}, "axis": {"orient": "bottom", "offset": -116, "values": [300,320,340,360,380,400,420,440], "title": "Wavelength (nm)", "titleX": 507, "titleY": 20, "titleBaseline": "middle", "titleAlign": "center"}},
    "y": {"field": "v", "type": "quantitative", "scale": {"domain": [0, 3], "range": [802, 656], "nice": false}, "axis": {"orient": "left", "offset": -384, "values": [0,0.5,1,1.5,2,2.5,3], "format": "~g", "title": "Relative Fluorescence (RFU)", "titleY": 745, "titleAlign": "center"}},
    "color": {"field": "s", "type": "nominal", "scale": {"domain": ["42","37"], "range": ["#ff3030","#3636ff"]}, "legend": {"orient": "none", "legendX": 482, "legendY": 826, "direction": "horizontal", "title": null, "symbolType": "stroke", "symbolStrokeWidth": 2, "symbolSize": 64, "labelFontSize": 6.4, "labelFontWeight": "bold", "labelColor": "#555", "labelOffset": 2, "columnPadding": 5, "labelExpr": "'WT ' + datum.label + '°C'"}}
   }},
  {"data": {"name": "curves"}, "transform": [{"filter": "datum.p === 'D'"}, {"joinaggregate": [{"op": "max", "field": "v", "as": "mx"}], "groupby": ["s"]}, {"filter": "datum.v === datum.mx"}],
   "mark": {"type": "point", "shape": "M-1,-1L1,1M1,-1L-1,1", "filled": false, "color": "#222", "strokeWidth": 1, "size": 28, "opacity": 1},
   "encoding": {"x": {"field": "w", "type": "quantitative"}, "y": {"field": "v", "type": "quantitative"}}},
  {"data": {"values": [{"lab": "WT"}]}, "mark": {"type": "text", "fontSize": 22, "align": "center", "baseline": "middle", "color": "#111"},
   "encoding": {"x": {"datum": 426.9}, "y": {"datum": 2.815}, "text": {"field": "lab"}}},
  {"data": {"values": [{"lab": "D"}]}, "mark": {"type": "text", "fontSize": 23, "align": "left", "baseline": "alphabetic", "color": "#111"},
   "encoding": {"x": {"datum": 278.5}, "y": {"datum": 3.40}, "text": {"field": "lab"}}},
  {"data": {"values": [{"lab": "Switched from 42ºC to 37ºC"}]}, "mark": {"type": "text", "fontSize": 23, "align": "left", "baseline": "alphabetic", "color": "#111"},
   "encoding": {"x": {"datum": 299.8}, "y": {"datum": 3.40}, "text": {"field": "lab"}}}
 ]},
 {"layer": [
  {"data": {"name": "pkB"}, "mark": {"type": "bar"},
   "encoding": {
    "x": {"field": "g", "type": "nominal", "scale": {"domain": ["WT","P497H","P497S","P506T","P509S","P525S"], "range": [70, 310], "paddingInner": 0.317, "paddingOuter": 0.1585}, "axis": {"orient": "bottom", "offset": -206, "title": null, "labelAngle": 0, "labelFontSize": 10, "labelFontWeight": "bold", "labelColor": "#000", "domainColor": "#000", "domainWidth": 1.5, "ticks": false, "labelPadding": 5}},
    "xOffset": {"field": "t", "type": "nominal", "scale": {"domain": ["37°C","42°C"], "paddingInner": 0.329, "paddingOuter": 0.1}},
    "y": {"aggregate": "mean", "field": "v", "type": "quantitative", "title": "Wavelength at peak emission (nm)", "scale": {"domain": [335, 350], "range": [712, 549], "nice": false, "zero": false}, "axis": {"orient": "left", "offset": -70, "values": [336,338,340,342,344,346,348,350], "format": "d", "titleFontSize": 8.8, "titleColor": "#000", "labelFontSize": 8, "labelFontWeight": "bold", "labelColor": "#000", "domainColor": "#000", "domainWidth": 1.5, "tickColor": "#000", "tickWidth": 1.5, "tickSize": 3, "labelPadding": 1, "titlePadding": 4}},
    "y2": {"datum": 335},
    "color": {"field": "t", "type": "nominal", "scale": {"domain": ["37°C","42°C"], "range": ["#1e8fff","#ff1577"]}, "legend": {"orient": "none", "legendX": 207, "legendY": 572, "direction": "horizontal", "title": null, "symbolType": "M-1,-0.55L1,-0.55L1,0.55L-1,0.55Z", "symbolSize": 169, "symbolStrokeWidth": 0, "labelFontSize": 8, "labelColor": "#000", "labelOffset": 2, "columnPadding": 27}}
   }},
  {"data": {"name": "pkB"}, "mark": {"type": "errorbar", "extent": "stdev", "ticks": {"size": 5, "color": "#222"}, "rule": {"color": "#222", "strokeWidth": 1}},
   "encoding": {
    "x": {"field": "g", "type": "nominal"},
    "xOffset": {"field": "t", "type": "nominal", "scale": {"domain": ["37°C","42°C"], "paddingInner": 0.329, "paddingOuter": 0.1}},
    "y": {"field": "v", "type": "quantitative", "title": "Wavelength at peak emission (nm)"}}},
  {"data": {"name": "pkB"}, "mark": {"type": "point", "filled": true, "size": 14, "color": "#000", "opacity": 1},
   "encoding": {
    "x": {"field": "g", "type": "nominal"},
    "xOffset": {"field": "k", "type": "nominal", "scale": {"domain": ["37-1","37-2","37-3","gap","42-1","42-2","42-3"], "paddingInner": 0, "paddingOuter": 0.2425}},
    "y": {"field": "v", "type": "quantitative", "title": "Wavelength at peak emission (nm)"}}},
  {"data": {"name": "brB"}, "mark": {"type": "line", "color": "#000", "strokeWidth": 1},
   "encoding": {
    "x": {"field": "g", "type": "nominal"},
    "xOffset": {"field": "t", "type": "nominal", "scale": {"domain": ["37°C","42°C"], "paddingInner": 0.329, "paddingOuter": 0.1}},
    "y": {"field": "y", "type": "quantitative", "title": "Wavelength at peak emission (nm)"},
    "order": {"field": "o", "type": "quantitative"},
    "detail": {"field": "g"}}},
  {"data": {"name": "sigB"}, "mark": {"type": "text", "baseline": "bottom", "dy": -1, "color": "#000"},
   "encoding": {
    "x": {"field": "g", "type": "nominal"},
    "y": {"field": "y", "type": "quantitative", "title": "Wavelength at peak emission (nm)"},
    "text": {"field": "lab"},
    "size": {"field": "lab", "type": "ordinal", "scale": {"domain": ["*","ns"], "range": [11, 6.5]}, "legend": null}}},
  {"data": {"values": [{"lab": "B"}]}, "mark": {"type": "text", "fontSize": 22, "align": "left", "baseline": "middle", "color": "#111", "dx": -79.7},
   "encoding": {"x": {"datum": "WT"}, "y": {"datum": 351.3}, "text": {"field": "lab"}}}
 ],
 "resolve": {"scale": {"xOffset": "independent"}}},
 {"layer": [
  {"data": {"name": "pkC"}, "mark": {"type": "bar"},
   "encoding": {
    "x": {"field": "g", "type": "nominal", "scale": {"domain": ["WT","P497H","P497S","P506T","P509S","P525S"], "range": [70, 310], "paddingInner": 0.317, "paddingOuter": 0.1585}, "axis": {"orient": "bottom", "offset": -15, "title": null, "labelAngle": 0, "labelFontSize": 10, "labelFontWeight": "bold", "labelColor": "#000", "domainColor": "#000", "domainWidth": 1.5, "ticks": false, "labelPadding": 5}},
    "xOffset": {"field": "t", "type": "nominal", "scale": {"domain": ["37°C","42°C"], "paddingInner": 0.329, "paddingOuter": 0.1}},
    "y": {"aggregate": "mean", "field": "v", "type": "quantitative", "title": "relative to 300 nm value", "scale": {"domain": [2.0, 3.2], "range": [903, 741], "nice": false, "zero": false}, "axis": {"orient": "left", "offset": -70, "values": [2.0,2.2,2.4,2.6,2.8,3.0,3.2], "format": ".1f", "titleY": 815, "titleFontSize": 8.6, "titleColor": "#000", "labelFontSize": 8, "labelFontWeight": "bold", "labelColor": "#000", "domainColor": "#000", "domainWidth": 1.5, "tickColor": "#000", "tickWidth": 1.5, "tickSize": 3, "labelPadding": 1, "titlePadding": 4}},
    "y2": {"datum": 2.0},
    "color": {"field": "t", "type": "nominal", "scale": {"domain": ["37°C","42°C"], "range": ["#1e8fff","#ff1577"]}, "legend": {"orient": "none", "legendX": 204, "legendY": 729.5, "direction": "horizontal", "title": null, "symbolType": "M-1,-0.55L1,-0.55L1,0.55L-1,0.55Z", "symbolSize": 169, "symbolStrokeWidth": 0, "labelFontSize": 8, "labelColor": "#000", "labelOffset": 2, "columnPadding": 23}}
   }},
  {"data": {"name": "pkC"}, "mark": {"type": "errorbar", "extent": "stderr", "ticks": {"size": 5, "color": "#222"}, "rule": {"color": "#222", "strokeWidth": 1}},
   "encoding": {
    "x": {"field": "g", "type": "nominal"},
    "xOffset": {"field": "t", "type": "nominal", "scale": {"domain": ["37°C","42°C"], "paddingInner": 0.329, "paddingOuter": 0.1}},
    "y": {"field": "v", "type": "quantitative", "title": "relative to 300 nm value"}}},
  {"data": {"name": "pkC"}, "mark": {"type": "point", "filled": true, "size": 14, "color": "#000", "opacity": 1},
   "encoding": {
    "x": {"field": "g", "type": "nominal"},
    "xOffset": {"field": "k", "type": "nominal", "scale": {"domain": ["37-1","37-2","37-3","gap","42-1","42-2","42-3"], "paddingInner": 0, "paddingOuter": 0.2425}},
    "y": {"field": "v", "type": "quantitative", "title": "relative to 300 nm value"}}},
  {"data": {"name": "brC"}, "mark": {"type": "line", "color": "#000", "strokeWidth": 1},
   "encoding": {
    "x": {"field": "g", "type": "nominal"},
    "xOffset": {"field": "t", "type": "nominal", "scale": {"domain": ["37°C","42°C"], "paddingInner": 0.329, "paddingOuter": 0.1}},
    "y": {"field": "y", "type": "quantitative", "title": "relative to 300 nm value"},
    "order": {"field": "o", "type": "quantitative"},
    "detail": {"field": "g"}}},
  {"data": {"name": "sigC"}, "mark": {"type": "text", "baseline": "bottom", "dy": -1, "color": "#000"},
   "encoding": {
    "x": {"field": "g", "type": "nominal"},
    "y": {"field": "y", "type": "quantitative", "title": "relative to 300 nm value"},
    "text": {"field": "lab"},
    "size": {"field": "lab", "type": "ordinal", "scale": {"domain": ["*","ns"], "range": [11, 6.5]}, "legend": null}}},
  {"data": {"values": [{"lab": "C"}]}, "mark": {"type": "text", "fontSize": 22, "align": "left", "baseline": "middle", "color": "#111", "dx": -83},
   "encoding": {"x": {"datum": "WT"}, "y": {"datum": 3.52}, "text": {"field": "lab"}}},
  {"data": {"values": [{"lab": "Maximum increase in peak fluorescence"}]}, "mark": {"type": "text", "fontSize": 8.6, "fontWeight": "bold", "angle": 270, "align": "center", "baseline": "middle", "color": "#000", "dy": -55},
   "encoding": {"x": {"datum": "WT"}, "y": {"datum": 2.652}, "text": {"field": "lab"}}}
 ],
 "resolve": {"scale": {"xOffset": "independent"}}}
],
"resolve": {
 "scale": {"x": "independent", "y": "independent", "color": "independent", "size": "independent", "xOffset": "independent"},
 "axis": {"x": "independent", "y": "independent"},
 "legend": {"color": "independent", "size": "independent"}
}
}
